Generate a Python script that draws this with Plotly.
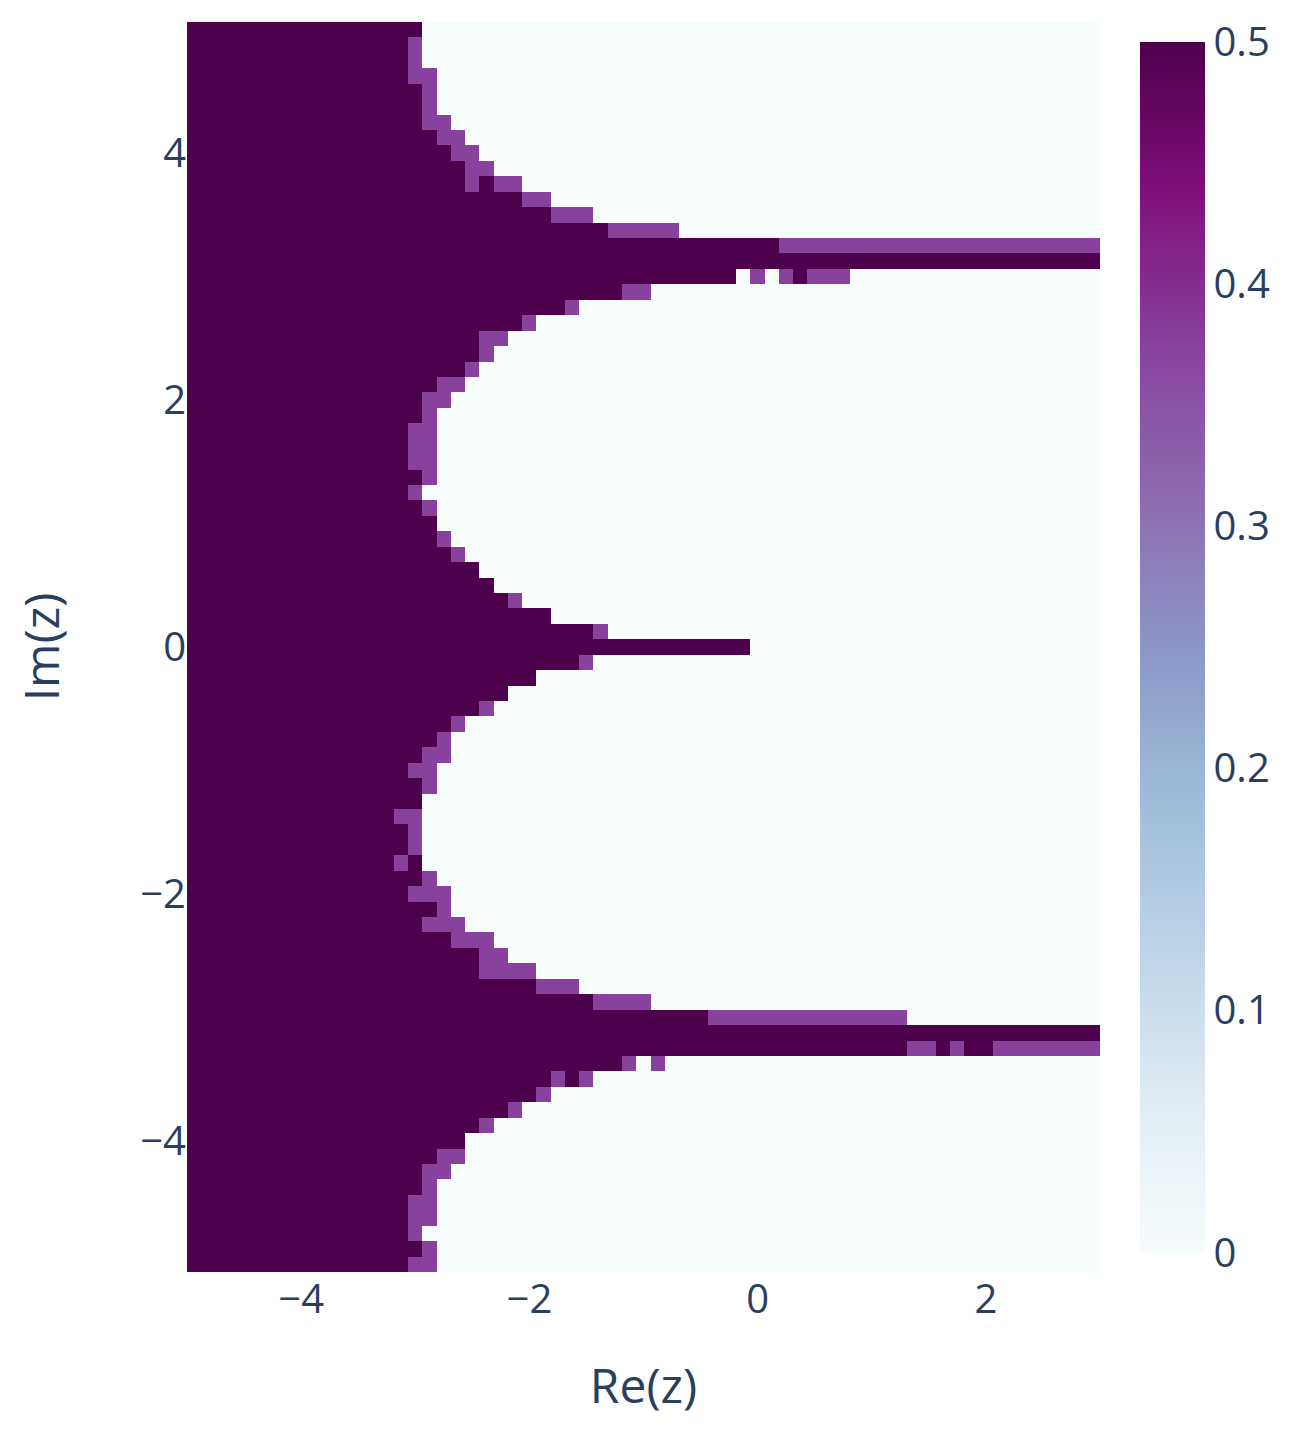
import numpy as np
import plotly.graph_objects as go

# grid (cell centres), columns x = -5 .. 3, rows y = 5 .. -5 (top to bottom)
re_vals = [round(-5 + 0.125 * i, 4) for i in range(65)]
im_vals = [round(5 - 0.125 * j, 4) for j in range(81)]

DARK = 0.5
MED = 0.375

# per row (top to bottom): last dark column index, last medium column index (-1 = none)
dark_end = [16, 15, 15, 15, 16, 16, 16, 17, 18, 19,
            21, 23, 25, 29, 41, 64, 38, 30, 26, 23,
            20, 20, 19, 17, 16, 16, 15, 15, 15, 16,
            15, 16, 17, 17, 18, 20, 21, 22, 25, 28,
            39, 27, 24, 22, 20, 18, 17, 16, 15, 16,
            16, 14, 15, 15, 16, 16, 15, 17, 16, 18,
            20, 20, 24, 28, 36, 64, 64, 30, 27, 24,
            22, 20, 19, 17, 16, 16, 15, 15, 15, 16, 15]
med_end = [-1, 16, 16, 17, 17, 17, 18, 19, 20, 21,
           23, 25, 28, 34, 64, -1, -1, 32, 27, 24,
           22, 21, 20, 19, 18, 17, 17, 17, 17, 17,
           16, 17, -1, 18, 19, -1, -1, 23, -1, 29,
           -1, 28, -1, -1, 21, 19, 18, 18, 17, 17,
           -1, 16, 16, 16, -1, 17, 18, 18, 19, 21,
           22, 24, 27, 32, 50, -1, -1, 31, 28, 25,
           23, 21, -1, 19, 18, 17, 17, 17, 16, 17, 17]
# isolated cells that differ from the row pattern: (row, col, value)
special_cells = [(10, 20, MED),
                 (16, 40, MED), (16, 42, MED), (16, 43, DARK), (16, 44, MED), (16, 45, MED), (16, 46, MED),
                 (54, 15, MED),
                 (66, 51, MED), (66, 52, MED), (66, 54, MED), (66, 57, MED), (66, 58, MED),
                 (66, 59, MED), (66, 60, MED), (66, 61, MED), (66, 62, MED), (66, 63, MED), (66, 64, MED),
                 (67, 33, MED),
                 (68, 26, MED)]

z = np.zeros((len(im_vals), len(re_vals)))
for r in range(len(im_vals)):
    if med_end[r] >= 0:
        z[r, :med_end[r] + 1] = MED
    z[r, :dark_end[r] + 1] = DARK
for r, c, v in special_cells:
    z[r, c] = v

font_col = "#2a3f5f"
fig = go.Figure(go.Heatmap(
    x=re_vals, y=im_vals, z=z, colorscale="BuPu", zmin=0, zmax=0.5,
    colorbar=dict(thickness=65, len=0.985, x=1.033, xanchor="left", y=0.5,
                  tickvals=[0, 0.1, 0.2, 0.3, 0.4, 0.5],
                  tickfont=dict(size=40, color=font_col), outlinewidth=0),
))
fig.update_layout(
    width=1307, height=1433,
    margin=dict(l=179, r=215, t=14, b=169),
    font=dict(family="Open Sans", color=font_col),
    paper_bgcolor="white", plot_bgcolor="white",
    xaxis=dict(title=dict(text="Re(z)", font=dict(size=48), standoff=45), tickfont=dict(size=40),
               range=[-5, 3], tickvals=[-4, -2, 0, 2], showgrid=False, zeroline=False, ticks=""),
    yaxis=dict(title=dict(text="Im(z)", font=dict(size=48), standoff=70), tickfont=dict(size=40),
               range=[-5.0625, 5.0625], tickvals=[-4, -2, 0, 2, 4], showgrid=False, zeroline=False, ticks=""),
)
fig.write_html("out.html")
